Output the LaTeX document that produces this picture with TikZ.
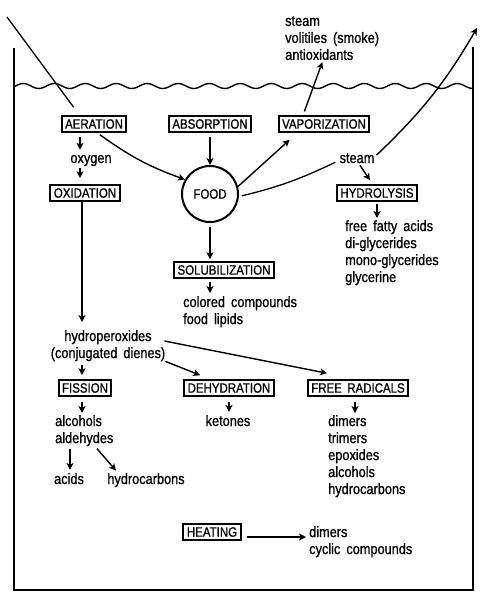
\documentclass[tikz,border=0pt]{standalone}
\usepackage{fontspec}
\setmainfont{Liberation Sans}[FakeStretch=0.85, FakeBold=0.9, WordSpace=1.7]
\usetikzlibrary{arrows.meta}
\tikzstyle{arrow} = [line width=1.4pt,-{Stealth[length=7pt,width=7pt,inset=2pt]}]

\begin{document}
\begin{tikzpicture}[x=1pt, y=-1pt,
		proc/.style={draw, line width=2pt, inner xsep=3.5pt, inner ysep=3pt, font=\fontsize{13.5}{16}\selectfont},
		txt/.style={inner sep=0pt, font=\fontsize{15}{17}\selectfont},
		list/.style={txt, align=left, anchor=north west},
		tank/.style={line width=1.4pt}
		]
		\useasboundingbox (0,0) rectangle (480,598);
		
		% fryer and oil surface
		\draw[tank] (14,48) -- (14,590) -- (473,590) -- (473,47);
		\draw[tank, domain=14:473, samples=240, smooth] plot (\x, {86+2.5*sin(\x*11.613)});
		
		\node (aeration) at (94,124) [proc] {AERATION};
		\node (absorption) at (210,124) [proc] {ABSORPTION};
		\node (vaporization) at (324,124) [proc] {VAPORIZATION};
		\node (oxidation) at (85,193) [proc] {OXIDATION};
		\node (food) at (210,194) [proc, circle, minimum size=56pt, inner sep=0pt] {FOOD};
		\node (hydrolysis) at (377,193) [proc] {HYDROLYSIS};
		\node (solubilization) at (224,270) [proc] {SOLUBILIZATION};
		\node (fission) at (85,388) [proc] {FISSION};
		\node (dehydration) at (229,388) [proc] {DEHYDRATION};
		\node (freeRadicals) at (358,388) [proc] {FREE RADICALS};
		\node (heating) at (212,532) [proc] {HEATING};
		
		\node (steamOut) at (285,16) [list] {steam\\volitiles (smoke)\\antioxidants};
		\node (oxygen) at (91,163) [txt, anchor=base] {oxygen};
		\node (steamIn) at (357,163) [txt, anchor=base] {steam};
		\node (hydroProducts) at (345,220) [list] {free fatty acids\\di-glycerides\\mono-glycerides\\glycerine};
		\node (colored) at (183,296) [list] {colored compounds\\food lipids};
		\node (hydroperox) at (108,330) [txt, align=center, anchor=north] {hydroperoxides\\(conjugated dienes)};
		\node (fissionProducts) at (55,415) [list] {alcohols\\aldehydes};
		\node (acids) at (69,484) [txt, anchor=base] {acids};
		\node (hydrocarbons) at (146,484) [txt, anchor=base] {hydrocarbons};
		\node (ketones) at (228,426) [txt, anchor=base] {ketones};
		\node (radicalProducts) at (328,415) [list] {dimers\\trimers\\epoxides\\alcohols\\hydrocarbons};
		\node (heatProducts) at (309,526) [list] {dimers\\cyclic compounds};
		
		\coordinate (airIn) at (7,17);
		\coordinate (steamUp) at (477,28);
		
		\draw[line width=1.3pt] (airIn) -- ([xshift=13pt,yshift=8pt]aeration.north west);
		\draw[arrow] ([xshift=-14pt,yshift=-4pt]aeration.south) -- ([xshift=-11pt,yshift=5pt]oxygen.north);
		\draw[arrow] ([xshift=-11pt,yshift=-2pt]oxygen.south) -- ([xshift=-5pt,yshift=6pt]oxidation.north);
		\draw[arrow] ([xshift=6pt,yshift=-2pt]aeration.south) to[bend right=8] (food.150);
		\draw[arrow, shorten <=4pt] (absorption.south) -- (food.north);
		\draw[arrow] (food.15) -- ([xshift=12pt,yshift=-7pt]vaporization.south west);
		\draw[arrow, shorten <=4pt, shorten >=2pt] ([xshift=-21pt]vaporization.north) -- ([xshift=38pt]steamOut.south west);
		\draw[line width=1.3pt, shorten <=3pt] (food.-5) to[bend right=6] ([xshift=-4pt,yshift=-4pt]steamIn.west);
		\draw[arrow] ([xshift=2pt,yshift=-2pt]steamIn.north east) to[bend right=8] (steamUp);
		\draw[arrow] ([xshift=3pt,yshift=-2pt]steamIn.south) -- ([xshift=-7pt,yshift=4pt]hydrolysis.north);
		\draw[arrow, shorten <=2pt, shorten >=2pt] (hydrolysis.south) -- (hydrolysis.south |- hydroProducts.north);
		\draw[arrow, shorten <=4pt, shorten >=2pt] (food.south) -- (food.south |- solubilization.north);
		\draw[arrow, shorten <=3pt, shorten >=3pt] (food.south |- solubilization.south) -- (food.south |- colored.north);
		\draw[arrow, shorten >=8pt] ([xshift=-3pt]oxidation.south) -- ([xshift=-3pt]oxidation.south |- hydroperox.north);
		\draw[arrow, shorten <=4pt, shorten >=4pt] ([xshift=-3pt]fission.north |- hydroperox.south) -- ([xshift=-3pt]fission.north);
		\draw[arrow] ([xshift=-1pt,yshift=-11pt]hydroperox.north east) -- ([xshift=-31pt,yshift=6pt]freeRadicals.north);
		\draw[arrow] (hydroperox.south east) -- ([xshift=17pt,yshift=4pt]dehydration.north west);
		\draw[arrow, shorten <=5pt, shorten >=2pt] ([xshift=-3pt]fission.south) -- ([xshift=-3pt]fission.south |- fissionProducts.north);
		\draw[arrow, shorten <=3pt, shorten >=3pt] ([xshift=15pt]fissionProducts.south west) -- ([xshift=15pt]fissionProducts.south west |- acids.north);
		\draw[arrow, shorten <=3pt, shorten >=3pt] ([xshift=40pt]fissionProducts.south west) -- ([xshift=-28pt]hydrocarbons.north);
		\draw[arrow, shorten <=5pt, shorten >=3pt] (dehydration.south) -- (dehydration.south |- ketones.north);
		\draw[arrow, shorten <=5pt, shorten >=2pt] ([xshift=-3pt]freeRadicals.south) -- ([xshift=-3pt]freeRadicals.south |- radicalProducts.north);
		\draw[arrow, shorten <=5pt, shorten >=3pt] ([yshift=-5pt]heating.east) -- ([yshift=-5pt]heating.east -| heatProducts.west);
\end{tikzpicture}
\end{document}
